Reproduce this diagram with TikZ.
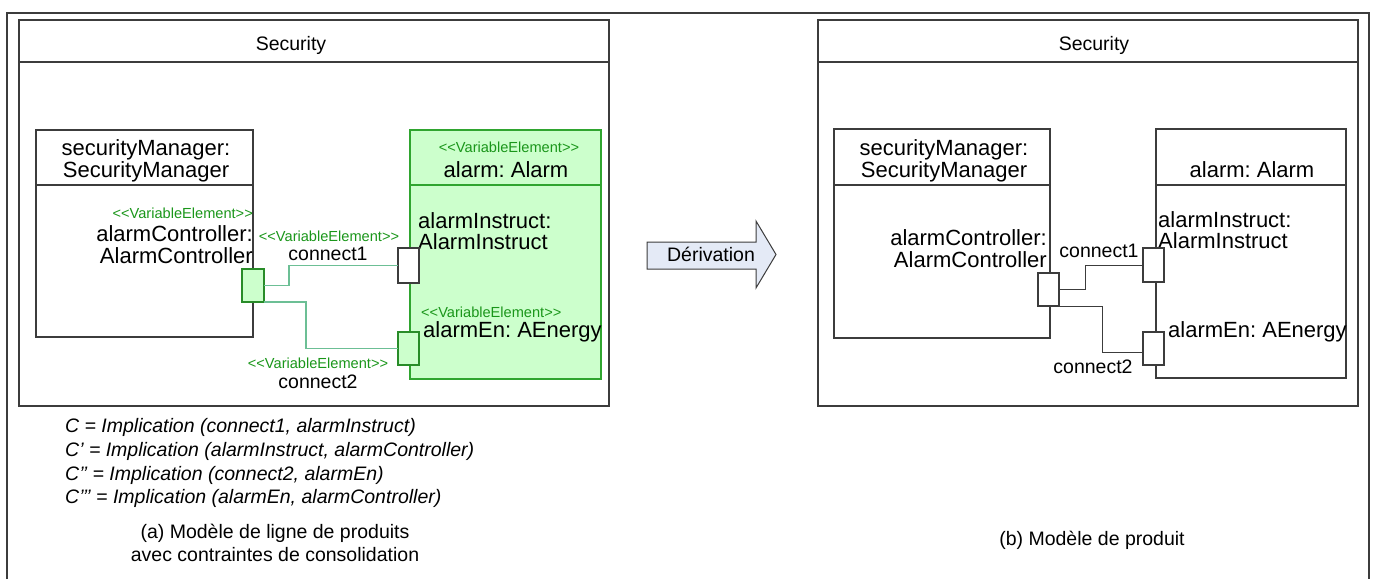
\documentclass[tikz,border=0pt]{standalone}
\usepackage{fontspec}
\setmainfont{Liberation Sans}

\definecolor{linegray}{HTML}{3C3C3C}
\definecolor{vborder}{HTML}{2FA52F}
\definecolor{vfill}{HTML}{CCFFCC}
\definecolor{vtext}{HTML}{1A961A}
\definecolor{vwirecol}{HTML}{6CBF95}
\definecolor{arrowfill}{HTML}{E4EAF6}

\tikzset{
  frameline/.style={draw=linegray, line width=1.4pt},
  umlbox/.style={draw=linegray, line width=1.2pt, anchor=north west,
                 inner sep=0pt, outer sep=0pt},
  vbox/.style={umlbox, draw=vborder, fill=vfill},
  portbox/.style={umlbox, fill=white},
  vport/.style={portbox, draw=vborder!85!black, fill=vfill},
  wire/.style={draw=linegray, line width=1pt},
  vwire/.style={draw=vwirecol, line width=1.3pt},
  big/.style={font=\fontsize{22}{22}\selectfont, inner sep=0pt},
  lbl/.style={font=\fontsize{19.5}{24}\selectfont, inner sep=0pt},
  stereo/.style={font=\fontsize{14.6}{15}\selectfont, text=vtext, inner sep=0pt},
  constr/.style={font=\fontsize{19.5}{24}\selectfont\itshape, inner sep=0pt, anchor=base west},
}

\begin{document}
\frenchspacing
\begin{tikzpicture}[x=1pt, y=-1pt]
\useasboundingbox (0,0) rectangle (1373,579);

% outer frame (open at the bottom)
\coordinate (fbl) at (7,579);
\coordinate (ftr) at (1369,13);
\coordinate (fbr) at (1369,579);
\draw[frameline] (fbl) |- (ftr) -- (fbr);

% ---------------- product line model (left) ----------------
\node[umlbox, minimum width=590pt, minimum height=386pt] (lsec) at (19,20) {};
\draw[umlbox] ([yshift=-42pt]lsec.north west) -- ([yshift=-42pt]lsec.north east);
\node[lbl, anchor=base] (lsect) at (291,50) {Security};

\node[umlbox, minimum width=217pt, minimum height=207pt] (lmgr) at (36,130) {};
\draw[umlbox] ([yshift=-55pt]lmgr.north west) -- ([yshift=-55pt]lmgr.north east);
\node[big, anchor=base] (lmgr1) at (146,155) {securityManager:};
\node[big, anchor=base] (lmgr2) at (146,177) {SecurityManager};
\node[stereo, anchor=base east] (lctrs) at (253,218) {<{}<VariableElement>{}>};
\node[big, anchor=base east] (lctr1) at (253,241) {alarmController:};
\node[big, anchor=base east] (lctr2) at (253,263) {AlarmController};

\node[vbox, minimum width=191pt, minimum height=249pt] (lalarm) at (410,130) {};
\draw[vbox] ([yshift=-55pt]lalarm.north west) -- ([yshift=-55pt]lalarm.north east);
\node[stereo, anchor=base] (lalms) at (509,152) {<{}<VariableElement>{}>};
\node[big, anchor=base] (lalm) at (506,177) {alarm: Alarm};
\node[big, anchor=base west] (linst1) at (418,228) {alarmInstruct:};
\node[big, anchor=base west] (linst2) at (418,249) {AlarmInstruct};
\node[stereo, anchor=base west] (lens) at (421,317) {<{}<VariableElement>{}>};
\node[big, anchor=base west] (len) at (423,337) {alarmEn: AEnergy};

% ports
\node[vport, minimum width=22pt, minimum height=33pt] (lpc) at (242,269) {};
\node[portbox, minimum width=21pt, minimum height=35pt] (lpi) at (398,248) {};
\node[vport, minimum width=21pt, minimum height=33pt] (lpe) at (398,332) {};

% connectors
\draw[vwire] (lpc.east) -- ++(25,0) |- (lpi.west);
\draw[vwire] (lpc.south east) -- ++(42,0) |- (lpe.west);
\node[stereo, anchor=base] (lc1s) at (329,241) {<{}<VariableElement>{}>};
\node[lbl, anchor=base] (lc1) at (328,260) {connect1};
\node[stereo, anchor=base] (lc2s) at (318,368) {<{}<VariableElement>{}>};
\node[lbl, anchor=base] (lc2) at (318,388) {connect2};

% consolidation constraints
\node[constr] (cst1) at (65,432) {C = Implication (connect1, alarmInstruct)};
\node[constr] (cst2) at (65,456) {C’ = Implication (alarmInstruct, alarmController)};
\node[constr] (cst3) at (65,480) {C’’ = Implication (connect2, alarmEn)};
\node[constr] (cst4) at (65,503) {C’’’ = Implication (alarmEn, alarmController)};

\node[lbl, anchor=base] (capa1) at (275,538) {(a) Modèle de ligne de produits};
\node[lbl, anchor=base] (capa2) at (275,561) {avec contraintes de consolidation};

% ---------------- derivation arrow ----------------
\draw[draw=linegray, line width=1pt, fill=arrowfill]
  (647,242) -- (756,242) -- (756,221) -- (776,254.5) -- (756,288)
  -- (756,269) -- (647,269) -- cycle;
\node[lbl, anchor=base] (deriv) at (711,261) {Dérivation};

% ---------------- product model (right) ----------------
\node[umlbox, minimum width=540pt, minimum height=386pt] (rsec) at (818,20) {};
\draw[umlbox] ([yshift=-42pt]rsec.north west) -- ([yshift=-42pt]rsec.north east);
\node[lbl, anchor=base] (rsect) at (1094,50) {Security};

\node[umlbox, minimum width=216pt, minimum height=209pt] (rmgr) at (834,129) {};
\draw[umlbox] ([yshift=-56pt]rmgr.north west) -- ([yshift=-56pt]rmgr.north east);
\node[big, anchor=base] (rmgr1) at (944,155) {securityManager:};
\node[big, anchor=base] (rmgr2) at (944,177) {SecurityManager};
\node[big, anchor=base east] (rctr1) at (1047,245) {alarmController:};
\node[big, anchor=base east] (rctr2) at (1047,267) {AlarmController};

\node[umlbox, minimum width=190pt, minimum height=249pt] (ralarm) at (1156,129) {};
\draw[umlbox] ([yshift=-56pt]ralarm.north west) -- ([yshift=-56pt]ralarm.north east);
\node[big, anchor=base] (ralm) at (1252,177) {alarm: Alarm};
\node[big, anchor=base west] (rinst1) at (1158,227) {alarmInstruct:};
\node[big, anchor=base west] (rinst2) at (1158,248) {AlarmInstruct};
\node[big, anchor=base west] (ren) at (1168,337) {alarmEn: AEnergy};

\node[portbox, minimum width=21pt, minimum height=33pt] (rpc) at (1038,273) {};
\node[portbox, minimum width=21pt, minimum height=34pt] (rpi) at (1143,248) {};
\node[portbox, minimum width=21pt, minimum height=33pt] (rpe) at (1143,332) {};

\draw[wire] (rpc.east) -- ++(26,0) |- (rpi.west);
\draw[wire] (rpc.south east) -- ++(43,0) |- ([yshift=-3.5pt]rpe.west);
\node[lbl, anchor=base] (rc1) at (1099,257) {connect1};
\node[lbl, anchor=base] (rc2) at (1093,373) {connect2};

\node[lbl, anchor=base] (capb) at (1092,545) {(b) Modèle de produit};
\end{tikzpicture}
\end{document}
